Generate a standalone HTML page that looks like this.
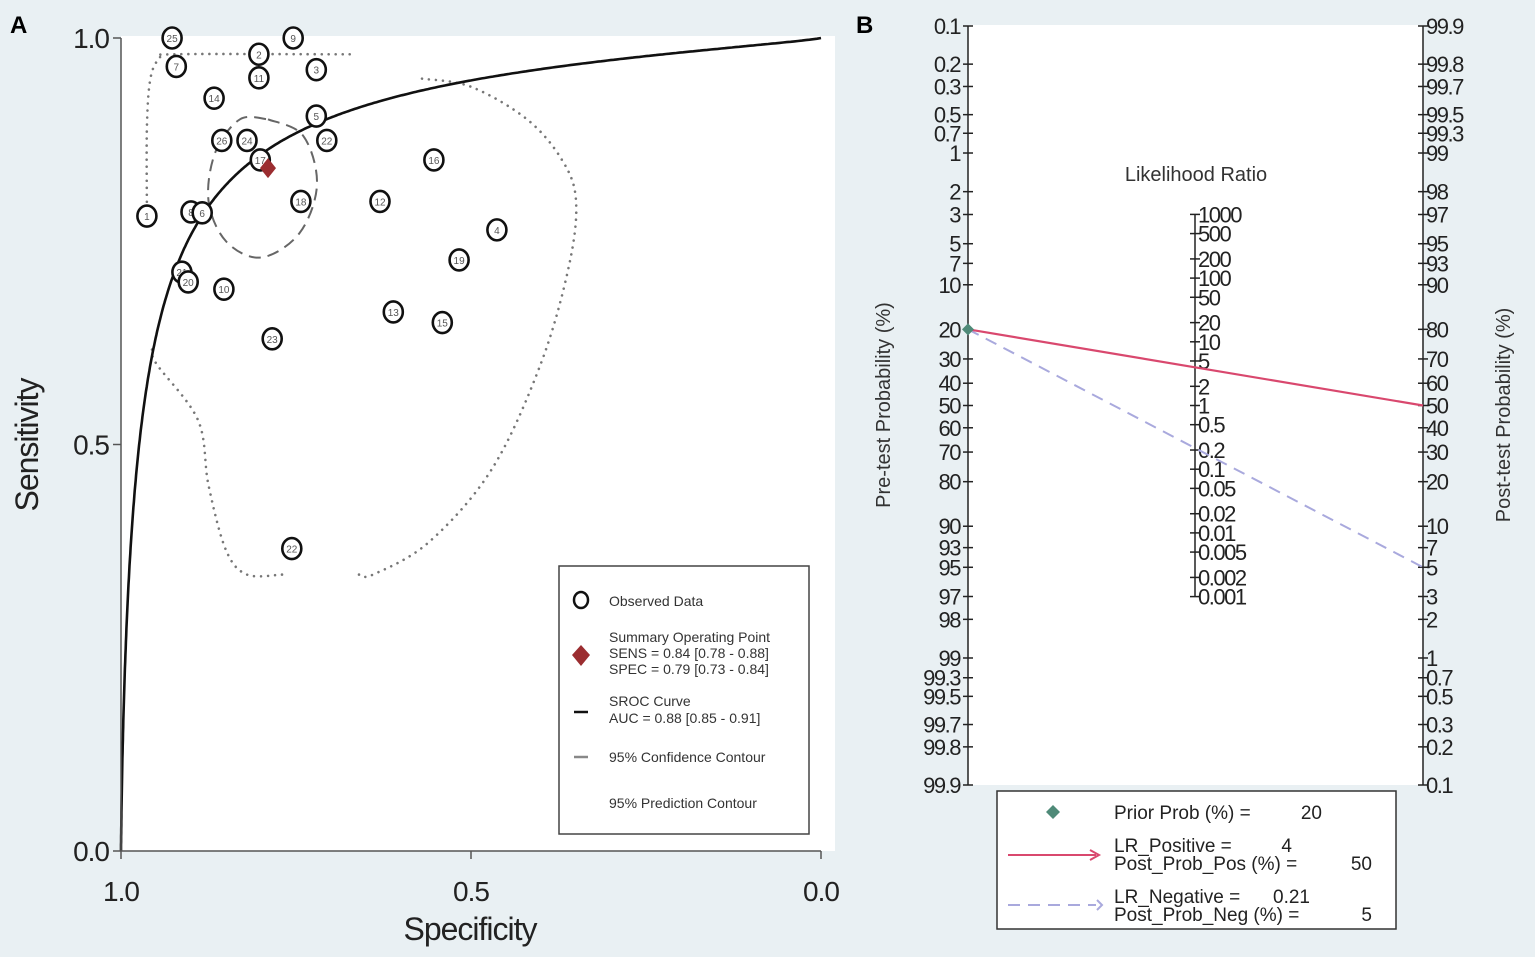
<!DOCTYPE html>
<html><head><meta charset="utf-8">
<style>
html,body{margin:0;padding:0;background:#e9f0f3;}
svg{display:block;font-family:"Liberation Sans",sans-serif;}
</style></head>
<body>
<svg id="c" width="1535" height="957" viewBox="0 0 1535 957" xmlns="http://www.w3.org/2000/svg">
<rect x="0" y="0" width="1535" height="957" fill="#e9f0f3"/>
<g id="A"></g>
<g id="B"></g>
</svg>
<script>
// ---------- Panel A data ----------
const studyLabels = ['25','9','2','7','11','3','14','5','26','24','22','17','16','1','8','6','18','12','4','19','21','20','10','23','13','15','22'];
const studySpec = [0.927,0.754,0.803,0.921,0.803,0.721,0.867,0.721,0.856,0.820,0.706,0.801,0.553,0.963,0.900,0.884,0.743,0.630,0.463,0.517,0.913,0.904,0.853,0.784,0.611,0.541,0.756];
const studySens = [1.000,1.000,0.980,0.965,0.951,0.961,0.926,0.904,0.874,0.874,0.874,0.850,0.850,0.781,0.786,0.785,0.799,0.799,0.764,0.727,0.712,0.700,0.691,0.630,0.663,0.650,0.372];
const summarySpec = 0.79, summarySens = 0.84;
const srocA = 2.9, srocB = 0.80; // logit(sens) = a + b*logit(1-spec)
const axisTicksA = [0, 0.5, 1.0];
const axisTickLabelsA = ['0.0','0.5','1.0'];
const confSpec = [0.79,0.74,0.72,0.745,0.80,0.85,0.875,0.865,0.83,0.79];
const confSens = [0.90,0.88,0.82,0.76,0.73,0.75,0.80,0.86,0.90,0.90];
const predSpec = [0.963,0.963,0.958,0.945,0.925,0.70,0.67];
const predSens = [0.79,0.89,0.95,0.975,0.98,0.98,0.98];
const pred2Spec = [0.57,0.50,0.42,0.37,0.35,0.36,0.40,0.47,0.56,0.64,0.66];
const pred2Sens = [0.95,0.94,0.90,0.85,0.80,0.72,0.60,0.47,0.38,0.34,0.34];
const pred3Spec = [0.77,0.82,0.85,0.875,0.89,0.95,0.955];
const pred3Sens = [0.34,0.34,0.37,0.45,0.53,0.60,0.62];

// ---------- Panel B data ----------
const leftTicks = [0.1,0.2,0.3,0.5,0.7,1,2,3,5,7,10,20,30,40,50,60,70,80,90,93,95,97,98,99,99.3,99.5,99.7,99.8,99.9];
const rightTicks = [99.9,99.8,99.7,99.5,99.3,99,98,97,95,93,90,80,70,60,50,40,30,20,10,7,5,3,2,1,0.7,0.5,0.3,0.2,0.1];
const lrTicks = [1000,500,200,100,50,20,10,5,2,1,0.5,0.2,0.1,0.05,0.02,0.01,0.005,0.002,0.001];
const lrTickLabels = ['1000','500','200','100','50','20','10','5','2','1','0.5','0.2','0.1','0.05','0.02','0.01','0.005','0.002','0.001'];
const priorProb = 20;
const lrPositive = 4, postProbPos = 50;
const lrNegative = 0.21, postProbNeg = 5;

const NS='http://www.w3.org/2000/svg';
function el(parent, tag, attrs, text){
  const e=document.createElementNS(NS,tag);
  for(const k in attrs) e.setAttribute(k,attrs[k]);
  if(text!==undefined) e.textContent=text;
  parent.appendChild(e); return e;
}
const A=document.getElementById('A'), B=document.getElementById('B');

// ---- Panel A scales
const ax0=121, ax1=821, ay0=851, ay1=38;
const xA = s => ax0 + (1-s)*(ax1-ax0);
const yA = v => ay0 - v*(ay0-ay1);
let e;
e=el(A,'rect',{x:121,y:36,width:714,height:815,fill:'#fff'});


e=el(A,'text',{x:10,y:33,'font-size':24,'font-weight':'bold'},'A');



function smoothPath(pts){
  const n=pts.length;
  let d='M'+pts[0][0]+','+pts[0][1];
  for(let i=0;i<n-1;i++){
    const p0=pts[Math.max(i-1,0)],p1=pts[i],p2=pts[i+1],p3=pts[Math.min(i+2,n-1)];
    const c1=[p1[0]+(p2[0]-p0[0])/6,p1[1]+(p2[1]-p0[1])/6];
    const c2=[p2[0]-(p3[0]-p1[0])/6,p2[1]-(p3[1]-p1[1])/6];
    d+=' C'+c1.join(',')+' '+c2.join(',')+' '+p2.join(',');
  }
  return d;
}
function dotted(xs,ys,name){
  const d=smoothPath(xs.map((s,i)=>[xA(s),yA(ys[i])]));
  const p=el(A,'path',{d:d,fill:'none',stroke:'#777','stroke-width':2.6,'stroke-dasharray':'0.01 7','stroke-linecap':'round'});
  
  
}
dotted(predSpec,predSens,'prediction-contour-top');
dotted(pred2Spec,pred2Sens,'prediction-contour-right');
dotted(pred3Spec,pred3Sens,'prediction-contour-bottom');

e=el(A,'path',{d:smoothPath(confSpec.map((s,i)=>[xA(s),yA(confSens[i])])),fill:'none',stroke:'#666','stroke-width':2,'stroke-dasharray':'12 7'});



// SROC curve
{
  let d='';
  for(let i=0;i<=400;i++){
    const fpr=Math.pow(i/400,2.2);
    let sens;
    if(fpr<=0) sens=0; else if(fpr>=1) sens=1;
    else { const lf=Math.log(fpr/(1-fpr)); const ls=srocA+srocB*lf; sens=1/(1+Math.exp(-ls)); }
    d+=(i?'L':'M')+xA(1-fpr).toFixed(1)+','+yA(sens).toFixed(1)+' ';
  }
  e=el(A,'path',{d:d,fill:'none',stroke:'#111','stroke-width':2.6});
  
  
}

studySpec.forEach((s,i)=>{
  const g=el(A,'g',{});
  
  
  el(g,'ellipse',{cx:xA(s),cy:yA(studySens[i]),rx:9.5,ry:10.5,fill:'#fff',stroke:'#111','stroke-width':2.6});
  el(g,'text',{x:xA(s),y:yA(studySens[i])+4,'font-size':10,'text-anchor':'middle',fill:'#555'},studyLabels[i]);
});

{
  const cx=xA(summarySpec), cy=yA(summarySens);
  e=el(A,'path',{d:`M${cx},${cy-10} L${cx+8},${cy} L${cx},${cy+10} L${cx-8},${cy} Z`,fill:'#9b2d30'});
  
  
}

e=el(A,'path',{d:`M${ax0},${ay1} L${ax0},${ay0} L${ax1},${ay0}`,fill:'none',stroke:'#555','stroke-width':1.5});


axisTicksA.forEach((t,i)=>{
  el(A,'line',{x1:ax0-8,y1:yA(t),x2:ax0,y2:yA(t),stroke:'#555','stroke-width':1.5});
  e=el(A,'text',{x:ax0-12,y:yA(t)+10,'font-size':28,'text-anchor':'end',fill:'#222','letter-spacing':-1},axisTickLabelsA[i]);
  
  
  el(A,'line',{x1:xA(t),y1:ay0,x2:xA(t),y2:ay0+8,stroke:'#555','stroke-width':1.5});
  e=el(A,'text',{x:xA(t),y:ay0+50,'font-size':28,'text-anchor':'middle',fill:'#222','letter-spacing':-1},axisTickLabelsA[i]);
  
  
});
e=el(A,'text',{x:470,y:940,'font-size':32,'text-anchor':'middle',fill:'#222','letter-spacing':-1},'Specificity');


e=el(A,'text',{x:0,y:0,'font-size':32,'text-anchor':'middle',fill:'#222','letter-spacing':-1,transform:'translate(38,445) rotate(-90)'},'Sensitivity');



{
  const g=el(A,'g',{'font-size':14,fill:'#333'});
  
  
  el(g,'rect',{x:559,y:566,width:250,height:268,fill:'#fff',stroke:'#444','stroke-width':1.5});
  el(g,'ellipse',{cx:581,cy:600,rx:7,ry:8,fill:'#fff',stroke:'#111','stroke-width':2.5});
  el(g,'text',{x:609,y:606},'Observed Data');
  el(g,'path',{d:'M581,645 L590,655 L581,666 L572,655 Z',fill:'#9b2d30'});
  el(g,'text',{x:609,y:642},'Summary Operating Point');
  el(g,'text',{x:609,y:658},'SENS = 0.84 [0.78 - 0.88]');
  el(g,'text',{x:609,y:674},'SPEC = 0.79 [0.73 - 0.84]');
  el(g,'line',{x1:574,y1:712,x2:588,y2:712,stroke:'#111','stroke-width':2.5});
  el(g,'text',{x:609,y:706},'SROC Curve');
  el(g,'text',{x:609,y:723},'AUC = 0.88 [0.85 - 0.91]');
  el(g,'line',{x1:574,y1:757,x2:588,y2:757,stroke:'#888','stroke-width':2.5});
  el(g,'text',{x:609,y:762},'95% Confidence Contour');
  el(g,'text',{x:609,y:808},'95% Prediction Contour');
}

// ---- Panel B
const bxL=968, bxR=1423, bxM=1195, byC=405.5, bHalf=379.5, lmax=Math.log(999);
const logit=p=>Math.log(p/(1-p));
const yPre = p => byC + logit(p/100)/lmax*bHalf;
const yPost = p => byC - logit(p/100)/lmax*bHalf;
const yLR = v => byC - Math.log10(v)*63.7;

e=el(B,'rect',{x:bxL,y:25,width:bxR-bxL,height:760,fill:'#fff'});


e=el(B,'text',{x:856,y:33,'font-size':24,'font-weight':'bold'},'B');



el(B,'line',{x1:bxL,y1:yPre(0.1),x2:bxL,y2:yPre(99.9),stroke:'#222','stroke-width':1.5});
el(B,'line',{x1:bxR,y1:yPost(99.9),x2:bxR,y2:yPost(0.1),stroke:'#222','stroke-width':1.5});
el(B,'line',{x1:bxM,y1:yLR(1000),x2:bxM,y2:yLR(0.001),stroke:'#222','stroke-width':1.5});

leftTicks.forEach(t=>{
  el(B,'line',{x1:bxL-5,y1:yPre(t),x2:bxL+5,y2:yPre(t),stroke:'#222','stroke-width':1.5});
  e=el(B,'text',{x:bxL-8,y:yPre(t)+8,'font-size':22,'text-anchor':'end',fill:'#222','letter-spacing':-1.5},String(t));
  
  
});
rightTicks.forEach(t=>{
  el(B,'line',{x1:bxR-5,y1:yPost(t),x2:bxR+5,y2:yPost(t),stroke:'#222','stroke-width':1.5});
  e=el(B,'text',{x:bxR+3,y:yPost(t)+8,'font-size':22,fill:'#222','letter-spacing':-1.5},String(t));
  
  
});
lrTicks.forEach((t,i)=>{
  el(B,'line',{x1:bxM-5,y1:yLR(t),x2:bxM+5,y2:yLR(t),stroke:'#222','stroke-width':1.5});
  e=el(B,'text',{x:bxM+3,y:yLR(t)+8,'font-size':22,fill:'#222','letter-spacing':-1.5},lrTickLabels[i]);
  
  
});
e=el(B,'text',{x:1196,y:181,'font-size':20,'text-anchor':'middle',fill:'#333'},'Likelihood Ratio');


e=el(B,'text',{x:0,y:0,'font-size':20,'text-anchor':'middle',fill:'#333',transform:'translate(890,405) rotate(-90)'},'Pre-test Probability (%)');


e=el(B,'text',{x:0,y:0,'font-size':20,'text-anchor':'middle',fill:'#333',transform:'translate(1510,415) rotate(-90)'},'Post-test Probability (%)');



e=el(B,'line',{x1:bxL,y1:yPre(priorProb),x2:bxR,y2:yPost(postProbNeg),stroke:'#a9a9dd','stroke-width':2,'stroke-dasharray':'12 8'});


e=el(B,'line',{x1:bxL,y1:yPre(priorProb),x2:bxR,y2:yPost(postProbPos),stroke:'#d9486e','stroke-width':2.2});


{
  const y=yPre(priorProb);
  e=el(B,'path',{d:`M${bxL},${y-6} L${bxL+6},${y} L${bxL},${y+6} L${bxL-6},${y} Z`,fill:'#4f8a78'});
  
  
}

{
  const g=el(B,'g',{'font-size':19,fill:'#222'});
  
  
  el(g,'rect',{x:997,y:791,width:399,height:138,fill:'#fff',stroke:'#333','stroke-width':1.5});
  el(g,'path',{d:'M1053,805 L1060,812 L1053,819 L1046,812 Z',fill:'#4f8a78'});
  el(g,'text',{x:1114,y:819},'Prior Prob (%) =');
  el(g,'text',{x:1322,y:819,'text-anchor':'end'},String(priorProb));
  el(g,'line',{x1:1008,y1:855,x2:1096,y2:855,stroke:'#d9486e','stroke-width':2});
  el(g,'path',{d:'M1090,850 L1099,855 L1090,860',fill:'none',stroke:'#d9486e','stroke-width':2});
  el(g,'text',{x:1114,y:852},'LR_Positive =');
  el(g,'text',{x:1292,y:852,'text-anchor':'end'},String(lrPositive));
  el(g,'text',{x:1114,y:870},'Post_Prob_Pos (%) =');
  el(g,'text',{x:1372,y:870,'text-anchor':'end'},String(postProbPos));
  el(g,'line',{x1:1008,y1:905,x2:1096,y2:905,stroke:'#a9a9dd','stroke-width':2,'stroke-dasharray':'12 8'});
  el(g,'path',{d:'M1097,900 L1102,905 L1097,910',fill:'none',stroke:'#a9a9dd','stroke-width':2});
  el(g,'text',{x:1114,y:903},'LR_Negative =');
  el(g,'text',{x:1310,y:903,'text-anchor':'end'},String(lrNegative));
  el(g,'text',{x:1114,y:921},'Post_Prob_Neg (%) =');
  el(g,'text',{x:1372,y:921,'text-anchor':'end'},String(postProbNeg));
}
</script>
</body></html>
